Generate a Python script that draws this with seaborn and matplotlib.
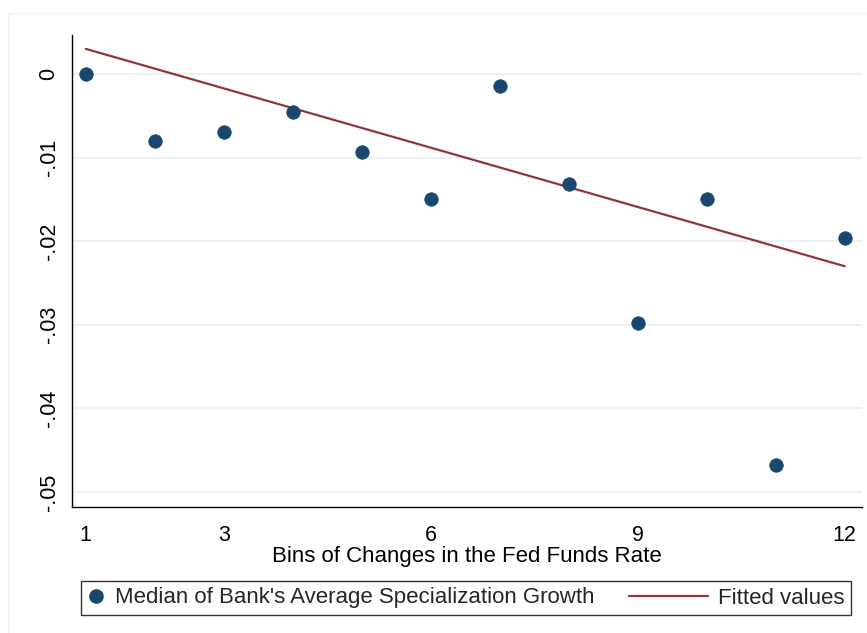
import numpy as np
import pandas as pd
import matplotlib
matplotlib.use("Agg")
import matplotlib.pyplot as plt
import seaborn as sns
from matplotlib.lines import Line2D
from matplotlib.patches import Rectangle
from matplotlib.legend_handler import HandlerLine2D

# ---- data ----
bins = [1, 2, 3, 4, 5, 6, 7, 8, 9, 10, 11, 12]
median_growth = [0.0000, -0.0080, -0.0070, -0.0045, -0.0093, -0.0150,
                 -0.0014, -0.0132, -0.0298, -0.0149, -0.0468, -0.0196]
fit_x = [1, 12]
fit_values = [0.0030, -0.0230]
x_ticks = [1, 3, 6, 9, 12]
y_ticks = [0, -0.01, -0.02, -0.03, -0.04, -0.05]
y_tick_labels = ["0", "-.01", "-.02", "-.03", "-.04", "-.05"]
xlabel = "Bins of Changes in the Fed Funds Rate"
legend_labels = ["Median of Bank's Average Specialization Growth", "Fitted values"]

navy = "#1a476f"
maroon = "#90353b"
grid_c = "#eaf2f3"

sns.set_theme(style="white")
plt.rcParams["font.family"] = ["Liberation Sans", "DejaVu Sans"]

df = pd.DataFrame({"bin": bins, "median": median_growth})
fit_df = pd.DataFrame({"bin": fit_x, "fit": fit_values})

fig = plt.figure(figsize=(8.67, 6.33), dpi=100)
# faint outer region border
fig.patches.append(Rectangle((8/867, -0.1), 1.2, 1.1 - 13/633,
                             transform=fig.transFigure, fill=False,
                             edgecolor="#eeeeee", lw=0.8, zorder=0))

ax = fig.add_axes([72/867, 1-507/633, (862-72)/867, (507-35)/633])
ax.patch.set_alpha(0)

for yt in y_ticks:
    ax.axhline(yt, color=grid_c, lw=1.5, zorder=0)

sns.lineplot(data=fit_df, x="bin", y="fit", ax=ax, color=maroon, lw=1.6, zorder=2)
sns.scatterplot(data=df, x="bin", y="median", ax=ax, color=navy, s=95,
                edgecolor=navy, linewidth=0.5, zorder=3)

ax.set_xlim(0.8, 12.25)
ax.set_ylim(-0.0518, 0.00466)
ax.set_xticks(x_ticks)
ax.set_xticklabels([str(t) for t in x_ticks])
ax.set_yticks(y_ticks)
ax.set_yticklabels(y_tick_labels, rotation=90, va="center")

for s in ["top", "right"]:
    ax.spines[s].set_visible(False)
for s in ["left", "bottom"]:
    ax.spines[s].set_color("black")
    ax.spines[s].set_linewidth(1.0)

ax.tick_params(axis="both", which="major", length=6, width=1, color="black",
               labelsize=15.5, labelcolor="black", direction="out")
ax.tick_params(axis="y", pad=3)
ax.tick_params(axis="x", pad=7)
ax.set_xlabel(xlabel, fontsize=16, color="black", labelpad=0)
ax.set_ylabel("")


class LongLine(HandlerLine2D):
    def create_artists(self, legend, orig_handle, xdescent, ydescent, width,
                       height, fontsize, trans):
        extra = 2.75 * fontsize
        return super().create_artists(legend, orig_handle, xdescent + extra,
                                      ydescent, width + extra, height,
                                      fontsize, trans)


h1 = Line2D([], [], ls="none", marker="o", markersize=9.5, color=navy)
h2 = Line2D([], [], color=maroon, lw=1.6)
leg = fig.legend([h1, h2], legend_labels, loc="center",
                 bbox_to_anchor=(466/867, 1-598/633), ncol=2,
                 fontsize=16, frameon=True, fancybox=False,
                 edgecolor="black", handlelength=0.8, handletextpad=0.45,
                 columnspacing=4.3, borderpad=0.3,
                 handler_map={h2: LongLine()})
leg.get_frame().set_linewidth(1.0)

fig.savefig("out.png", dpi=100, facecolor="white")
